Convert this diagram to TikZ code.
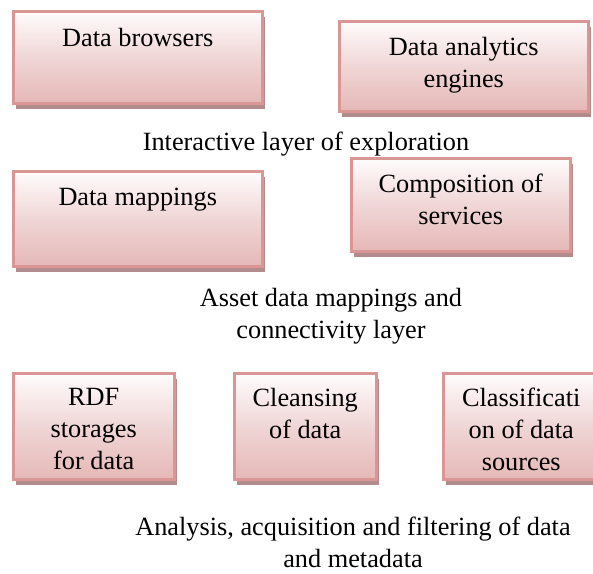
\documentclass[tikz,border=0pt]{standalone}
\usepackage{fontspec}
\setmainfont{Liberation Serif}
\usetikzlibrary{shadows}
\definecolor{boxborder}{RGB}{217,150,148}
\definecolor{boxbottom}{RGB}{229,184,183}
\definecolor{boxmid}{RGB}{240,214,214}
\definecolor{boxtop}{RGB}{255,252,252}
\definecolor{shadowc}{RGB}{178,140,140}
\tikzset{
  box/.style={draw=boxborder, line width=2.5pt, rectangle, anchor=north west,
    top color=boxtop, bottom color=boxbottom, middle color=boxmid,
    drop shadow={shadow xshift=3pt, shadow yshift=-6pt, fill=shadowc, opacity=1},
    inner sep=0pt},
  txt/.style={font=\fontsize{26.3}{32}\selectfont, align=center, anchor=north, inner sep=0pt, text=black},
}
\begin{document}
\begin{tikzpicture}[x=1pt,y=-1pt]
\useasboundingbox (0,0) rectangle (593,573);
\clip (0,0) rectangle (593,573);
% top layer
\node[box, minimum width=249pt, minimum height=92pt] (b1) at (12,10) {};
\node[box, minimum width=249pt, minimum height=90pt] (b2) at (338,20) {};
% middle layer
\node[box, minimum width=249pt, minimum height=95pt] (b3) at (12,170) {};
\node[box, minimum width=219pt, minimum height=93pt] (b4) at (350,157) {};
% bottom layer
\node[box, minimum width=161pt, minimum height=106pt] (b5) at (12,372) {};
\node[box, minimum width=142pt, minimum height=106pt] (b6) at (233,372) {};
\node[box, minimum width=156pt, minimum height=106pt] (b7) at (442,372) {};
% box texts
\node[txt] (t1) at ([yshift=-18pt]b1.north) {Data browsers};
\node[txt] (t2) at ([yshift=-17pt]b2.north) {Data analytics\\engines};
\node[txt] (t3) at ([yshift=-18pt]b3.north) {Data mappings};
\node[txt] (t4) at ([yshift=-17pt]b4.north) {Composition of\\services};
\node[txt] (t5) at ([yshift=-16pt]b5.north) {RDF\\storages\\for data};
\node[txt] (t6) at ([yshift=-16pt]b6.north) {Cleansing\\of data};
\node[txt] (t7) at ([yshift=-16pt]b7.north) {Classificati\\on of data\\sources};
% layer labels
\node[txt] (l1) at (306,132) {Interactive layer of exploration};
\node[txt] (l2) at (331,288) {Asset data mappings and\\connectivity layer};
\node[txt] (l3) at (353,517) {Analysis, acquisition and filtering of data\\and metadata};
\end{tikzpicture}
\end{document}
